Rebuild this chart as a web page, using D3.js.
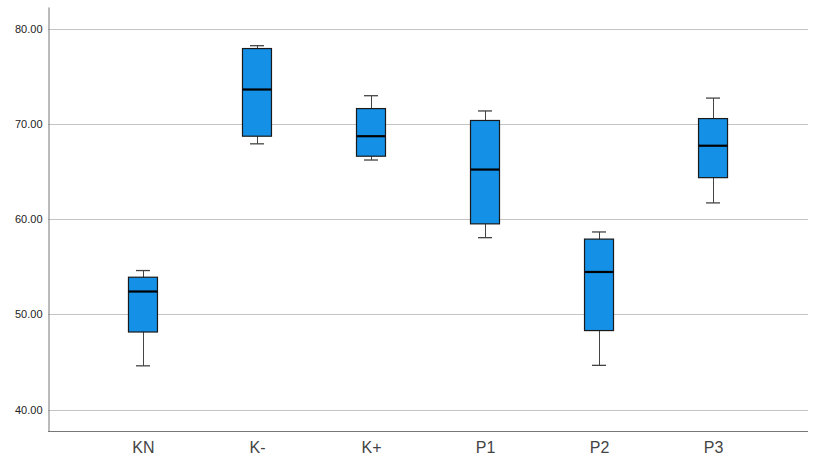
<!DOCTYPE html>
<html><head><meta charset="utf-8">
<script src="https://cdn.jsdelivr.net/npm/d3@7"></script>
<style>body{margin:0;background:#fff}svg{display:block}</style>
</head><body>
<script>
const categories = ["KN","K-","K+","P1","P2","P3"];
const whiskerLow  = [44.6, 67.9, 66.2, 58.05, 44.65, 61.7];
const q1          = [48.15, 68.7, 66.6, 59.5, 48.3, 64.35];
const medians     = [52.4, 73.6, 68.7, 65.2, 54.45, 67.7];
const q3          = [53.9, 77.9, 71.6, 70.35, 57.9, 70.55];
const whiskerHigh = [54.6, 78.2, 72.95, 71.35, 58.65, 72.7];
const yTicks = [40, 50, 60, 70, 80];

(function () {
const W = 819, H = 469;
const svg = d3.select("body").append("svg").attr("width", W).attr("height", H);
const mL = 48, mR = 808, mT = 7, mB = 431;
const y = d3.scaleLinear().domain([37.76, 82.26]).range([mB, mT]);
const x = d3.scalePoint().domain(categories).range([mL, mR]).padding(0.833);

// gridlines
svg.append("g").selectAll("line").data(yTicks).join("line")
  .attr("x1", mL).attr("x2", mR)
  .attr("y1", d => Math.round(y(d)) + 0.5).attr("y2", d => Math.round(y(d)) + 0.5)
  .attr("stroke", "#c4c4c4").attr("stroke-width", 1);

// axes
const yAxis = svg.append("g").attr("transform", `translate(${mL + 0.5},0)`)
  .call(d3.axisLeft(y).tickValues(yTicks).tickFormat(d3.format(".2f")).tickSize(0).tickPadding(6));
yAxis.select(".domain").attr("stroke", "#777");
yAxis.selectAll("text").attr("font-family", "Liberation Sans, Arial, sans-serif").attr("font-size", 11).attr("fill", "#222");

const xAxis = svg.append("g").attr("transform", `translate(0,${mB + 0.5})`)
  .call(d3.axisBottom(x).tickSize(0).tickPadding(10));
xAxis.select(".domain").attr("stroke", "#777").attr("d", `M${mL},0H${mR}`);
xAxis.selectAll("text").attr("font-family", "Liberation Sans, Arial, sans-serif").attr("font-size", 16).attr("fill", "#444");

const idx = d3.range(categories.length);
const boxW = 29, capW = 14;
const g = svg.append("g");
// whiskers
g.selectAll(".wl").data(idx).join("line")
  .attr("x1", i => Math.round(x(categories[i])) + 0.5).attr("x2", i => Math.round(x(categories[i])) + 0.5)
  .attr("y1", i => y(whiskerLow[i])).attr("y2", i => y(whiskerHigh[i]))
  .attr("stroke", "#444").attr("stroke-width", 1);
g.selectAll(".capL").data(idx).join("line")
  .attr("x1", i => x(categories[i]) - capW / 2).attr("x2", i => x(categories[i]) + capW / 2)
  .attr("y1", i => y(whiskerLow[i])).attr("y2", i => y(whiskerLow[i]))
  .attr("stroke", "#444").attr("stroke-width", 1.3);
g.selectAll(".capH").data(idx).join("line")
  .attr("x1", i => x(categories[i]) - capW / 2).attr("x2", i => x(categories[i]) + capW / 2)
  .attr("y1", i => y(whiskerHigh[i])).attr("y2", i => y(whiskerHigh[i]))
  .attr("stroke", "#444").attr("stroke-width", 1.3);
// boxes
g.selectAll("rect").data(idx).join("rect")
  .attr("x", i => x(categories[i]) - boxW / 2).attr("width", boxW)
  .attr("y", i => y(q3[i])).attr("height", i => y(q1[i]) - y(q3[i]))
  .attr("fill", "#1490e6").attr("stroke", "#1a1a1a").attr("stroke-width", 1.2);
// medians
g.selectAll(".med").data(idx).join("line")
  .attr("x1", i => x(categories[i]) - boxW / 2).attr("x2", i => x(categories[i]) + boxW / 2)
  .attr("y1", i => y(medians[i])).attr("y2", i => y(medians[i]))
  .attr("stroke", "#000").attr("stroke-width", 2.2);
})();
</script>
</body></html>
